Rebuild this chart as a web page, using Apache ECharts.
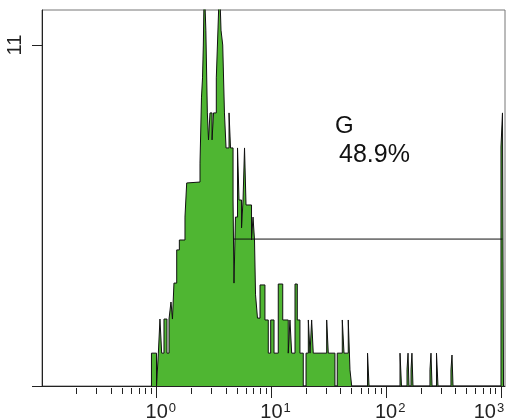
<!DOCTYPE html>
<html>
<head>
<meta charset="utf-8">
<script src="https://cdn.jsdelivr.net/npm/echarts@6/dist/echarts.min.js"></script>
<style>
  html, body { margin: 0; padding: 0; background: #fff; }
  #chart { width: 511px; height: 420px; }
</style>
</head>
<body>
<div id="chart"></div>
<script>
// histogram, x = log10 fluorescence (left edge of each step), y = events
var logFl = [
  -0.046, -0.002, 0.014, 0.028, 0.043, 0.063, 0.089, 0.107, 0.124, 0.137,
  0.150, 0.174, 0.197, 0.246, 0.261, 0.272, 0.377, 0.390, 0.399, 0.406,
  0.414, 0.428, 0.441, 0.451, 0.464, 0.482, 0.495, 0.519, 0.534, 0.547,
  0.560, 0.575, 0.590, 0.604, 0.630, 0.643, 0.665, 0.673, 0.686, 0.704,
  0.717, 0.739, 0.752, 0.765, 0.778, 0.826, 0.839, 0.852, 0.861, 0.878,
  0.900, 0.943, 0.972, 0.993, 1.022, 1.059, 1.098, 1.146, 1.161, 1.176,
  1.205, 1.225, 1.248, 1.277, 1.301, 1.321, 1.336, 1.350, 1.364, 1.481,
  1.495, 1.553, 1.573, 1.617, 1.632, 1.669, 1.684, 1.699, 1.837, 1.850,
  2.120, 2.133, 2.181, 2.190, 2.198, 2.216, 2.224, 2.233, 2.381, 2.390,
  2.399, 2.438, 2.451, 2.564, 2.573, 2.582, 3.000, 3.013, 3.022
];
var counts = [
  1.06, 0, 1.06, 2.16, 1.06, 2.16, 1.06, 2.16, 2.71, 2.16,
  3.32, 4.39, 4.71, 5.45, 6.55, 6.58, 7.19, 9.32, 9.94, 11.0,
  13, 11.48, 8.81, 7.94, 8.81, 7.94, 8.81, 9.94, 11.55, 13,
  11.48, 11.0, 8.81, 7.68, 8.81, 7.68, 6.0, 3.32, 5.45, 7.68,
  6.0, 5.10, 6.0, 7.68, 5.84, 4.71, 5.45, 4.71, 2.94, 2.19,
  3.26, 2.13, 1.06, 2.13, 1.06, 3.29, 2.13, 1.06, 2.13, 1.06,
  3.29, 2.13, 1.06, 0, 1.06, 2.13, 1.06, 2.13, 1.06, 2.13,
  1.06, 0, 1.06, 2.13, 1.06, 2.13, 0.52, 0, 1.06, 0,
  1.06, 0, 0.52, 1.06, 0, 0.52, 1.06, 0, 0.52, 1.06,
  0, 1.06, 0, 0.52, 1.0, 0, 7.71, 8.81, 0
];

// gate G
var gateRange = [0.665, 3.013];
var gateLevel = 4.74;
var gateName = 'G';
var gatePct = '48.9%';

// axes
var xMin = -1, xMax = 3.035;
var yMax = 12.13;
var decades = [0, 1, 2, 3];
var yTicks = [0, 11];
var yLabels = [11];

var minorTicks = [];
[-1, 0, 1, 2].forEach(function (d) {
  for (var k = 2; k <= 9; k++) minorTicks.push(d + Math.log10(k));
});

var histData = [[logFl[0], 0]];
logFl.forEach(function (x, i) {
  histData.push([x, counts[i]]);
});

var font = 'Liberation Sans, Arial, sans-serif';
var myChart = echarts.init(document.getElementById('chart'));
var option = {
  animation: false,
  grid: {
    left: 42, top: 10, right: 6, bottom: 34,
    containLabel: false,
    outerBoundsMode: 'none',
    show: true,
    borderColor: '#777',
    borderWidth: 1
  },
  xAxis: [
    {
      type: 'value',
      min: xMin,
      max: xMax,
      splitLine: { show: false },
      axisLine: { show: true, onZero: false, lineStyle: { color: '#222', width: 1 } },
      axisTick: { show: true, customValues: decades, length: 12, lineStyle: { color: '#222' } },
      axisLabel: {
        customValues: decades,
        margin: 16,
        hideOverlap: false,
        formatter: function (v) {
          // last label is pushed inside the frame
          if (v === 3) return '{b|10}{s|' + v + '}{gap|}';
          return '{lp|}{b|10}{s|' + v + '}';
        },
        rich: {
          b: { fontSize: 20, fontFamily: font, color: '#222', lineHeight: 21 },
          s: { fontSize: 13, fontFamily: font, color: '#222', verticalAlign: 'top', padding: [0, 0, 0, 1] },
          lp: { width: 8 },
          gap: { width: 24 }
        }
      }
    },
    {
      type: 'value',
      min: xMin,
      max: xMax,
      position: 'bottom',
      offset: 2,
      splitLine: { show: false },
      axisLine: { show: false, onZero: false },
      axisTick: { show: true, customValues: minorTicks, length: 6, lineStyle: { color: '#222' } },
      axisLabel: { show: false }
    }
  ],
  yAxis: {
    type: 'value',
    min: 0,
    max: yMax,
    splitLine: { show: false },
    axisLine: { show: true, onZero: false, lineStyle: { color: '#222', width: 1 } },
    axisTick: { show: true, customValues: yTicks, length: 10, lineStyle: { color: '#222' } },
    axisLabel: {
      customValues: yLabels,
      rotate: 90,
      margin: 17,
      fontSize: 20,
      fontFamily: font,
      color: '#222'
    }
  },
  series: [
    {
      type: 'line',
      step: 'end',
      data: histData,
      symbol: 'none',
      lineStyle: { color: '#111', width: 1 },
      areaStyle: { color: '#4fb632', opacity: 1 }
    },
    {
      type: 'line',
      data: [[gateRange[0], gateLevel], [gateRange[1], gateLevel]],
      symbol: 'none',
      lineStyle: { color: '#111', width: 1 },
      z: 5
    }
  ],
  graphic: [
    {
      type: 'text', left: 335, top: 114,
      style: { text: gateName, fontSize: 24, fontFamily: font, fill: '#111' }
    },
    {
      type: 'text', left: 339, top: 143,
      style: { text: gatePct, fontSize: 25, fontFamily: font, fill: '#111' }
    }
  ]
};
myChart.setOption(option);
</script>
</body>
</html>
